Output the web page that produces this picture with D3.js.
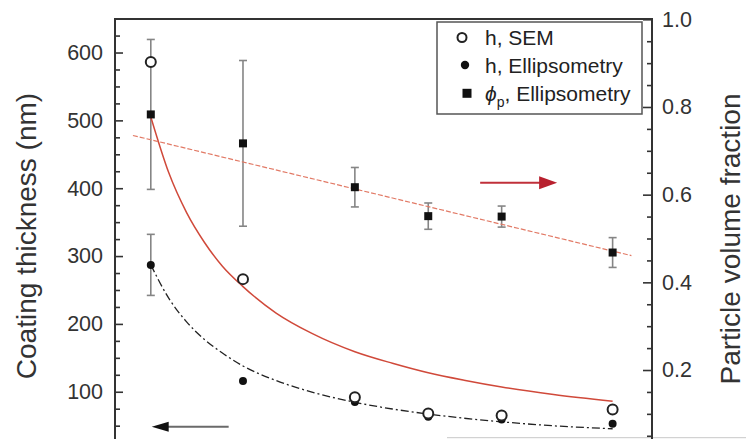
<!DOCTYPE html>
<html>
<head>
<meta charset="utf-8">
<script src="https://cdn.jsdelivr.net/npm/d3@7/dist/d3.min.js"></script>
<style>
html,body{margin:0;padding:0;background:#fff;}
svg{display:block;font-family:"Liberation Sans",Arial,Helvetica,sans-serif;}
</style>
</head>
<body>
<svg id="chart" width="746" height="439"></svg>
<script>
// ---- data ----
const xVals   = [1.0, 2.03, 3.28, 4.1, 4.92, 6.16];          // sample positions (x axis not visible)
const hSEM    = [586, 266, 92, 68, 65, 74];                   // h, SEM (nm)
const hEll    = [287, 116, 85, 63, 59, 53];                   // h, Ellipsometry (nm)
const hEllErr = [45, 0, 0, 0, 0, 0];
const phiP    = [0.783, 0.717, 0.617, 0.551, 0.550, 0.468];   // particle volume fraction
const phiErr  = [0.171, 0.189, 0.045, 0.030, 0.024, 0.034];

// fit curves
const fitX      = [1.0, 1.2, 1.4, 1.6, 1.8, 2.03, 2.4, 2.8, 3.28, 3.7, 4.1, 4.5, 4.92, 5.5, 6.16];
const fitSEM    = [505, 423, 364, 320, 285, 255, 216, 186, 159, 142, 128, 117, 107, 96, 86];
const fitEll    = [287, 238, 203, 177, 157, 138, 116.5, 99.5, 84.5, 74.6, 67.2, 61, 55.7, 49.8, 45.5];
const fitPhiX   = [0.80, 6.37];
const fitPhi    = [0.735, 0.461];

const leftTicks  = [100, 200, 300, 400, 500, 600];
const rightTicks = [0.2, 0.4, 0.6, 0.8, 1.0];
const legendLabels = ["h, SEM", "h, Ellipsometry", "Ellipsometry"];

// ---- layout ----
const svg = d3.select("#chart");
const L = 115, R = 652, T = 19;
const x  = d3.scaleLinear().domain([0.6, 6.6]).range([L, R]);
const yL = d3.scaleLinear().domain([0, 650]).range([459.6, 18.6]);
const yR = d3.scaleLinear().domain([0, 1.0]).range([457.7, 19.3]);

svg.append("rect").attr("width", 746).attr("height", 439).attr("fill", "#fff");

// page artefact line at the bottom right
svg.append("line").attr("x1", 447).attr("x2", 746).attr("y1", 437.7).attr("y2", 437.7)
  .attr("stroke", "#c8c8c8").attr("stroke-width", 1);

// ---- axes ----
const axisColor = "#333";
function styleAxis(g) {
  g.select(".domain").remove();
  g.selectAll("line").attr("stroke", axisColor).attr("stroke-width", 1.6);
  g.selectAll("text").attr("fill", "#333").style("font-size", "21.5px")
    .style("font-family", '"Liberation Sans",Arial,sans-serif');
}
const minorL = d3.range(25, 651, 25).filter(v => v % 100 !== 0);
svg.append("g").attr("transform", `translate(${L},0)`)
  .call(d3.axisLeft(yL).tickValues(minorL).tickSizeInner(-5).tickSizeOuter(0).tickFormat(""))
  .call(styleAxis);
svg.append("g").attr("transform", `translate(${L},0)`)
  .call(d3.axisLeft(yL).tickValues(leftTicks).tickSizeInner(-8).tickSizeOuter(0).tickPadding(12))
  .call(styleAxis);

const minorR = d3.range(1, 20).map(i => i * 0.05).filter(v => Math.abs(v * 5 - Math.round(v * 5)) > 1e-6);
svg.append("g").attr("transform", `translate(${R},0)`)
  .call(d3.axisRight(yR).tickValues(minorR).tickSizeInner(-5).tickSizeOuter(0).tickFormat(""))
  .call(styleAxis);
svg.append("g").attr("transform", `translate(${R},0)`)
  .call(d3.axisRight(yR).tickValues(rightTicks).tickSizeInner(-9).tickSizeOuter(0).tickPadding(10)
    .tickFormat(d3.format(".1f")))
  .call(styleAxis);

// frame lines
svg.append("path").attr("d", `M${L},450V${T}H${R}V450`)
  .attr("fill", "none").attr("stroke", axisColor).attr("stroke-width", 2);

// axis titles
svg.append("text").attr("transform", "translate(36,236) rotate(-90)")
  .attr("text-anchor", "middle").style("font-size", "28px").attr("fill", "#333")
  .text("Coating thickness (nm)");
svg.append("text").attr("transform", "translate(740,239) rotate(-90)")
  .attr("text-anchor", "middle").style("font-size", "28px").attr("fill", "#333")
  .text("Particle volume fraction");

// ---- error bars ----
const errCol = "#858585";
function errBar(xv, yc, e, scale) {
  if (!e) return;
  const g = svg.append("g").attr("stroke", errCol).attr("stroke-width", 1.6);
  const xp = x(xv), y1 = scale(yc + e), y2 = scale(yc - e);
  g.append("line").attr("x1", xp).attr("x2", xp).attr("y1", y1).attr("y2", y2);
  g.append("line").attr("x1", xp - 4).attr("x2", xp + 4).attr("y1", y1).attr("y2", y1);
  g.append("line").attr("x1", xp - 4).attr("x2", xp + 4).attr("y1", y2).attr("y2", y2);
}
xVals.forEach((xv, i) => {
  errBar(xv, phiP[i], phiErr[i], yR);
  errBar(xv, hEll[i], hEllErr[i], yL);
});

// ---- fit curves ----
const lineL = d3.line().x(d => x(d[0])).y(d => yL(d[1])).curve(d3.curveMonotoneX);
svg.append("path").datum(fitX.map((v, i) => [v, fitSEM[i]]))
  .attr("d", lineL).attr("fill", "none").attr("stroke", "#d0493a").attr("stroke-width", 1.5);
svg.append("path").datum(fitX.map((v, i) => [v, fitEll[i]]))
  .attr("d", lineL).attr("fill", "none").attr("stroke", "#222").attr("stroke-width", 1.3)
  .attr("stroke-dasharray", "8,3,2,3");
const lineR = d3.line().x(d => x(d[0])).y(d => yR(d[1]));
svg.append("path").datum(fitPhiX.map((v, i) => [v, fitPhi[i]]))
  .attr("d", lineR).attr("fill", "none").attr("stroke", "#e27a66").attr("stroke-width", 1.2)
  .attr("stroke-dasharray", "5,2");

// ---- markers ----
svg.append("g").selectAll("circle").data(xVals).join("circle")
  .attr("cx", (d) => x(d)).attr("cy", (d, i) => yL(hEll[i])).attr("r", 4)
  .attr("fill", "#111");
svg.append("g").selectAll("circle").data(xVals).join("circle")
  .attr("cx", (d) => x(d)).attr("cy", (d, i) => yL(hSEM[i])).attr("r", 5)
  .attr("fill", "#fff").attr("stroke", "#222").attr("stroke-width", 2);
svg.append("g").selectAll("rect").data(xVals).join("rect")
  .attr("x", d => x(d) - 4).attr("y", (d, i) => yR(phiP[i]) - 4)
  .attr("width", 8).attr("height", 8).attr("fill", "#111");

// ---- arrows ----
function arrow(x1, x2, yv, lineCol, headCol, headLen, headH, w) {
  const dir = Math.sign(x2 - x1);
  svg.append("line").attr("x1", x1).attr("x2", x2 - dir * headLen * 0.6)
    .attr("y1", yv).attr("y2", yv).attr("stroke", lineCol).attr("stroke-width", w);
  svg.append("path")
    .attr("d", `M${x2},${yv}L${x2 - dir * headLen},${yv - headH / 2}L${x2 - dir * headLen},${yv + headH / 2}Z`)
    .attr("fill", headCol);
}
arrow(x(4.68), x(5.54), yR(0.627), "#c0303a", "#b8202e", 18, 13, 2);
arrow(x(1.87), x(1.01), yL(48.5), "#6a6a6a", "#111", 17, 10, 2);

// ---- legend ----
const lg = svg.append("g");
lg.append("rect").attr("x", 437).attr("y", 22).attr("width", 205).attr("height", 92)
  .attr("fill", "#fff").attr("stroke", "#555").attr("stroke-width", 1.5);
const rows = [37.5, 65, 93.3];
lg.append("circle").attr("cx", 462).attr("cy", rows[0]).attr("r", 4.5)
  .attr("fill", "#fff").attr("stroke", "#222").attr("stroke-width", 2);
lg.append("circle").attr("cx", 465).attr("cy", rows[1]).attr("r", 4.2).attr("fill", "#111");
lg.append("rect").attr("x", 462.5).attr("y", rows[2] - 4.5).attr("width", 9).attr("height", 9).attr("fill", "#111");
const ts = lg.append("g").attr("fill", "#222").style("font-size", "21px");
ts.append("text").attr("x", 485).attr("y", rows[0] + 7.5).text(legendLabels[0]);
ts.append("text").attr("x", 485).attr("y", rows[1] + 7.5).text(legendLabels[1]);
const t3 = ts.append("text").attr("x", 485).attr("y", rows[2] + 7.5);
t3.append("tspan").style("font-style", "italic").text("\u03D5");
t3.append("tspan").attr("dy", 6).style("font-size", "14px").text("p");
t3.append("tspan").attr("dy", -6).text(", " + legendLabels[2]);
</script>
</body>
</html>
